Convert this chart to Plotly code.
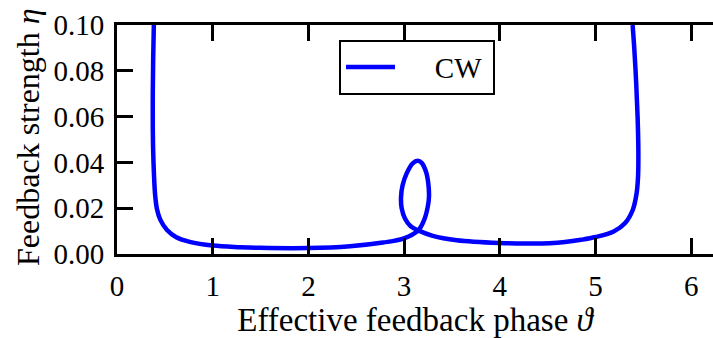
import plotly.graph_objects as go

# Stability boundary of the CW state: feedback strength eta versus phase theta,
# listed in order along the curve (left branch, lower trough, loop, right branch).
phase = [
    0.385, 0.378, 0.374, 0.374, 0.378, 0.386, 0.398, 0.418, 0.452, 0.520,
    0.620, 0.760, 1.000, 1.285, 1.494, 2.000, 2.435, 2.780, 2.990, 3.148,
    3.208, 3.247, 3.260, 3.253, 3.229, 3.184, 3.142, 3.090, 3.027, 2.985,
    2.968, 2.975, 3.009, 3.069, 3.148, 3.300, 3.550, 4.000, 4.280, 4.520,
    4.680, 4.850, 5.000, 5.190, 5.310, 5.390, 5.430, 5.445, 5.448, 5.440,
    5.425, 5.405, 5.388,
]
strength = [
    0.1000, 0.0850, 0.0700, 0.0550, 0.0450, 0.0350, 0.0260, 0.0195, 0.0150, 0.0106,
    0.0073, 0.0053, 0.0037, 0.0030, 0.0027, 0.0026, 0.0034, 0.0050, 0.0067, 0.0103,
    0.0147, 0.0206, 0.0249, 0.0308, 0.0359, 0.0398, 0.0407, 0.0396, 0.0352, 0.0301,
    0.0249, 0.0199, 0.0155, 0.0121, 0.0103, 0.0079, 0.0060, 0.0048, 0.0046, 0.0047,
    0.0052, 0.0062, 0.0074, 0.0098, 0.0135, 0.0193, 0.0266, 0.0340, 0.0450, 0.0600,
    0.0750, 0.0900, 0.1000,
]

x_ticks = [0, 1, 2, 3, 4, 5, 6]
y_ticks = [0.00, 0.02, 0.04, 0.06, 0.08, 0.10]
y_labels = [f"{v:.2f}" for v in y_ticks]

X_MAX = 6.228  # visible part of the [0, 2*pi] phase axis
FONT = "Liberation Serif, serif"

fig = go.Figure()
fig.add_trace(go.Scatter(
    x=phase, y=strength, mode="lines",
    name="\u2003\u2009CW\u2009",
    line=dict(color="#0000ff", width=4.5, shape="spline", smoothing=1.0),
))

axis_common = dict(
    showgrid=False, zeroline=False,
    ticks="inside", ticklen=16, tickwidth=2.5, tickcolor="black",
    showline=True, linewidth=3, linecolor="black",
    tickfont=dict(family=FONT, size=29, color="black"),
)

fig.update_layout(
    width=713, height=338,
    margin=dict(l=117, r=0, t=25, b=84),
    paper_bgcolor="white", plot_bgcolor="white",
    font=dict(family=FONT, size=29, color="black"),
    xaxis=dict(
        range=[0, X_MAX], tickvals=x_ticks, mirror="allticks",
        ticklabelstandoff=4,
        title=dict(text="Effective feedback phase <i>ϑ</i>", standoff=6,
                   font=dict(family=FONT, size=33)),
        **axis_common,
    ),
    yaxis=dict(
        range=[0, 0.10], tickvals=y_ticks, ticktext=y_labels, mirror=False,
        ticklabelstandoff=4,
        **axis_common,
    ),
    yaxis2=dict(
        overlaying="y", side="right", anchor="x", range=[0, 0.10],
        tickvals=y_ticks, showticklabels=False, showgrid=False, zeroline=False,
        ticks="inside", ticklen=10, tickwidth=2.5, tickcolor="black",
        showline=False,
    ),
    legend=dict(
        x=0.3725, y=0.9365, xanchor="left", yanchor="top",
        bgcolor="white", bordercolor="black", borderwidth=2,
        itemwidth=49,
        font=dict(family=FONT, size=29),
    ),
    showlegend=True,
    annotations=[dict(
        text="Feedback strength <i>η</i>", textangle=-90,
        xref="paper", yref="paper", x=-0.149, y=0.512,
        xanchor="center", yanchor="middle", showarrow=False,
        font=dict(family=FONT, size=32, color="black"),
    )],
)

fig.write_html("out.html")
